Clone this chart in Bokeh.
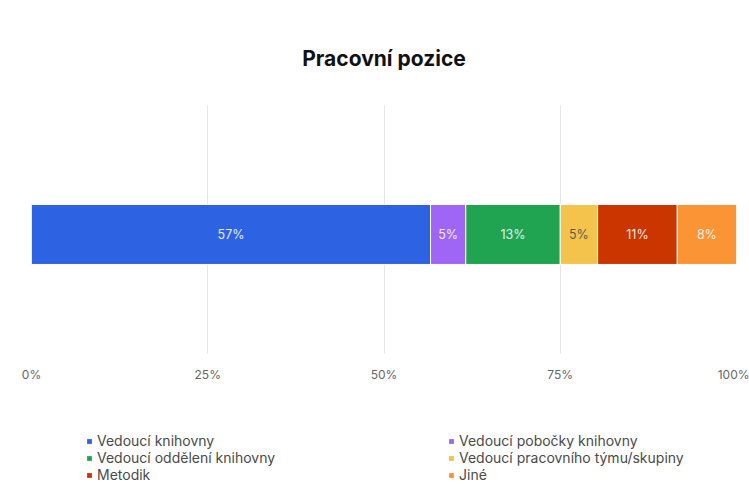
from bokeh.plotting import figure
from bokeh.layouts import column
from bokeh.models import ColumnDataSource, Range1d, Legend, LegendItem, FixedTicker, CustomJSTickFormatter, LabelSet
from bokeh.embed import file_html
from bokeh.resources import INLINE
from bokeh.core.properties import value

categories = ["Vedoucí knihovny", "Vedoucí pobočky knihovny", "Vedoucí oddělení knihovny",
              "Vedoucí pracovního týmu/skupiny", "Metodik", "Jiné"]
shares = [56.6, 5.0, 13.4, 5.3, 11.3, 8.4]
labels = ["57%", "5%", "13%", "5%", "11%", "8%"]
colors = ["#2D63E2", "#9F66F6", "#20A452", "#F3C34C", "#CB3500", "#FB9434"]
label_colors = ["#FFFFFF", "#FFFFFF", "#FFFFFF", "#4A4A4A", "#FFFFFF", "#FFFFFF"]
tick_values = [0, 25, 50, 75, 100]

FONT = "Inter"

lefts, rights = [], []
acc = 0.0
for s in shares:
    lefts.append(acc)
    acc += s
    rights.append(acc)
mids = [(l + r) / 2 for l, r in zip(lefts, rights)]

p = figure(width=749, height=426, output_backend="svg", toolbar_location=None,
           x_range=Range1d(0, 100), y_range=Range1d(-0.48, 0.52),
           min_border_left=31, min_border_right=13, min_border_top=105, min_border_bottom=73,
           title="Pracovní pozice")
p.outline_line_color = None
p.background_fill_color = "white"
p.border_fill_color = "white"

p.title.text_font = FONT
p.title.text_font_size = "21px"
p.title.text_font_style = "bold"
p.title.text_color = "#111111"
p.title.align = "center"
p.title.standoff = 70

p.yaxis.visible = False
p.ygrid.visible = False
p.xgrid.grid_line_color = "#E6E6E6"
p.xgrid.grid_line_width = 1
p.xaxis.ticker = FixedTicker(ticks=tick_values)
p.xaxis.formatter = CustomJSTickFormatter(code="return tick + '%';")
p.xaxis.axis_line_color = None
p.xaxis.major_tick_line_color = None
p.xaxis.minor_tick_line_color = None
p.xaxis.major_label_text_font = FONT
p.xaxis.major_label_text_font_size = "12px"
p.xaxis.major_label_text_color = "#666666"
p.xaxis.major_label_standoff = 7

src = ColumnDataSource(dict(mid=mids, y=[0] * 6, lab=labels, lc=label_colors))

for i in range(len(categories)):
    p.hbar(y=0, left=lefts[i], right=rights[i], height=0.242,
           fill_color=colors[i], line_color="white", line_width=1)

p.add_layout(LabelSet(x="mid", y="y", text="lab", source=src, text_color="lc",
                      text_align="center", text_baseline="middle",
                      text_font=value(FONT), text_font_size="12.5px", text_alpha=0.9))

# legend strip (its own small figure; the swatch renderers lie outside its view)
p2 = figure(width=749, height=58, output_backend="svg", toolbar_location=None,
            x_range=Range1d(0, 100), y_range=Range1d(10, 11),
            min_border_left=0, min_border_right=0, min_border_top=0, min_border_bottom=0)
p2.outline_line_color = None
p2.axis.visible = False
p2.grid.visible = False

swatches = []
for i in range(len(categories)):
    swatches.append(p2.hbar(y=0, left=lefts[i], right=rights[i], height=0.1,
                            fill_color=colors[i], line_color=None))

def make_legend(idx, x):
    return Legend(items=[LegendItem(label=categories[i], renderers=[swatches[i]]) for i in idx],
                  location=(x, 1), orientation="vertical",
                  glyph_width=6, glyph_height=6, label_standoff=5, label_height=16,
                  spacing=0, padding=0, margin=0, border_line_color=None,
                  background_fill_alpha=0,
                  label_text_font=FONT, label_text_font_size="14px",
                  label_text_color="#4A4A4A")

p2.add_layout(make_legend([0, 2, 4], 55), "center")
p2.add_layout(make_legend([1, 3, 5], 417), "center")

layout = column(p, p2, spacing=0)
open("out.html", "w").write(file_html(layout, INLINE))
